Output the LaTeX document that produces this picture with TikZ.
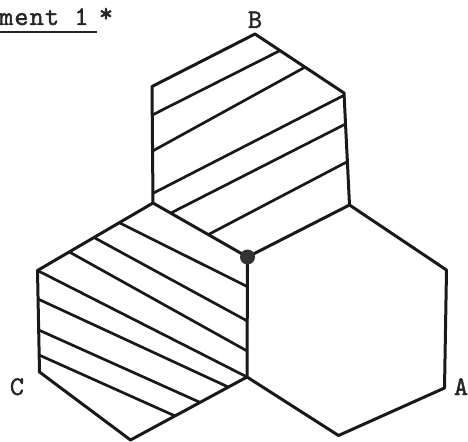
\documentclass[tikz,border=0pt]{standalone}
\usepackage{fontspec}
\newfontfamily\twfont{lmmono10-regular.otf}[LetterSpace=4, FakeBold=1.5]
\usetikzlibrary{calc}
\begin{document}
\begin{tikzpicture}[x=1bp,y=-1bp,
  edge/.style={line width=3bp, line join=round, line cap=round, draw=black!90},
  hatch/.style={line width=2.7bp, line cap=round, draw=black!90},
  lbl/.style={font=\twfont\fontsize{27bp}{31bp}\selectfont, inner sep=0pt, anchor=base, text=black!85}]
\useasboundingbox (0,0) rectangle (468,442);
% vertices
\coordinate (O)   at (247.5,257);
\coordinate (Bt)  at (255,34);
\coordinate (Bur) at (344,93);
\coordinate (Blr) at (349.5,205);
\coordinate (Bll) at (153,203);
\coordinate (Bul) at (152,86.5);
\coordinate (Aur) at (446.5,270);
\coordinate (Alr) at (444.5,388);
\coordinate (Ab)  at (338.5,435.5);
\coordinate (All) at (247,377);
\coordinate (Cul) at (37.5,270.5);
\coordinate (Cll) at (39.5,372);
\coordinate (Cb)  at (130.5,440);
% hexagons
\draw[edge] (O) -- (Bll) -- (Bul) -- (Bt) -- (Bur) -- (Blr) -- cycle;
\draw[edge] (Blr) -- (Aur) -- (Alr) -- (Ab) -- (All) -- (O);
\draw[edge] (Bll) -- (Cul) -- (Cll) -- (Cb) -- (All);
% hatching B
\draw[hatch] ($(Bul)!0.245!(Bll)$) -- ($(Bt)!0.281!(Bur)$);
\draw[hatch] ($(Bul)!0.554!(Bll)$) -- ($(Bt)!0.562!(Bur)$);
\draw[hatch] ($(Bul)!0.917!(Bll)$) -- ($(Bur)!0.02!(Blr)$);
\draw[hatch] ($(Bll)!0.187!(O)$) -- ($(Bur)!0.277!(Blr)$);
\draw[hatch] ($(Bll)!0.585!(O)$) -- ($(Bur)!0.613!(Blr)$);
% hatching C
\draw[hatch] ($(Bll)!0.292!(Cul)$) -- ($(O)!0.247!(All)$);
\draw[hatch] ($(Bll)!0.511!(Cul)$) -- ($(O)!0.533!(All)$);
\draw[hatch] ($(Bll)!0.725!(Cul)$) -- ($(O)!0.783!(All)$);
\draw[hatch] (Cul) -- (All);
\draw[hatch] ($(Cul)!0.281!(Cll)$) -- ($(All)!0.16!(Cb)$);
\draw[hatch] ($(Cul)!0.586!(Cll)$) -- ($(All)!0.403!(Cb)$);
\draw[hatch] ($(Cul)!0.833!(Cll)$) -- ($(All)!0.618!(Cb)$);
% centre dot
\node[circle, fill=black!80, inner sep=0pt, minimum size=15bp] (dot) at (O) {};
% labels
\node[lbl] (lB) at (255,28) {B};
\node[lbl] (lA) at (461,395) {A};
\node[lbl] (lC) at (17,395) {C};
\node[lbl, anchor=base west] (title) at (-1,25) {ment 1};
\node[lbl] (star) at (106,22) {*};
\coordinate (ulS) at (0,32);
\coordinate (ulE) at (97,32);
\draw[line width=1.8bp, draw=black!85] (ulS) -- (ulE);
\end{tikzpicture}
\end{document}
